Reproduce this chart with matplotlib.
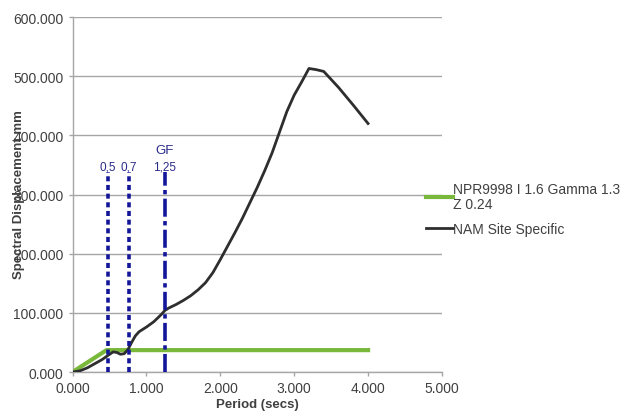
import matplotlib
matplotlib.use("Agg")
import matplotlib.pyplot as plt
from matplotlib.ticker import FuncFormatter

plt.rcParams['font.family'] = ['Liberation Sans', 'DejaVu Sans']

# Data
npr_period = [0.0, 0.46, 4.0]
npr_disp = [0.0, 37.0, 37.0]

nam_period = [0.0, 0.1, 0.2, 0.3, 0.4, 0.48, 0.55, 0.6, 0.65, 0.7, 0.75, 0.8, 0.85, 0.9,
              0.95, 1.0, 1.1, 1.2, 1.25, 1.3, 1.4, 1.5, 1.6, 1.7, 1.8, 1.9, 2.0, 2.1,
              2.2, 2.3, 2.4, 2.5, 2.6, 2.7, 2.8, 2.9, 3.0, 3.1, 3.2, 3.3, 3.4, 3.6,
              3.8, 4.0]
nam_disp = [0, 2, 7, 14, 21, 28, 34, 33, 30, 31, 38, 50, 61, 68, 72, 76, 85, 97, 104,
            108, 114, 121, 129, 139, 151, 168, 190, 213, 236, 260, 286, 312, 340, 370,
            405, 440, 468, 490, 513, 511, 508, 481, 451, 420]

marker_periods = [0.48, 0.76]
marker_labels = ['0,5', '0,7']
gf_period = 1.25
gf_labels = ['GF', '1,25']
marker_top = 338

xticks = [0, 1, 2, 3, 4, 5]
yticks = [0, 100, 200, 300, 400, 500, 600]

fig = plt.figure(figsize=(6.23, 4.14), dpi=100)
ax = fig.add_axes([0.1164, 0.099, 0.593, 0.8575])

ax.set_xlim(0, 5)
ax.set_ylim(0, 600)
ax.set_xticks(xticks)
ax.set_yticks(yticks)
fmt = FuncFormatter(lambda v, p: f"{v:.3f}")
ax.xaxis.set_major_formatter(fmt)
ax.yaxis.set_major_formatter(fmt)

ax.grid(axis='y', color='#a6a6a6', linewidth=1.0)
ax.set_axisbelow(True)
for s in ['top', 'right']:
    ax.spines[s].set_visible(False)
for s in ['left', 'bottom']:
    ax.spines[s].set_color('#a6a6a6')
    ax.spines[s].set_linewidth(1.0)
ax.tick_params(axis='both', colors='#a6a6a6', labelcolor='#404040', labelsize=10,
               length=3, width=1)

l1, = ax.plot(npr_period, npr_disp, color='#79b83a', linewidth=3,
              label='NPR9998 I 1.6 Gamma 1.3\nZ 0.24', zorder=3)
l2, = ax.plot(nam_period, nam_disp, color='#2e2e2e', linewidth=2,
              label='NAM Site Specific', zorder=4)

navy = '#14169a'
for p, lab in zip(marker_periods, marker_labels):
    ax.plot([p, p], [0, marker_top], color=navy, linewidth=2.6,
            linestyle=(0, (1.4, 1.0)), zorder=5)
    ax.text(p, 348, lab, color='#2a2a8a', fontsize=8.5, ha='center', va='center')
ax.plot([gf_period, gf_period], [0, marker_top], color=navy, linewidth=2.6,
        linestyle=(0, (5, 1.2, 1.2, 1.2)), zorder=5)
ax.text(gf_period, 376, gf_labels[0], color='#2a2a8a', fontsize=9.5, ha='center', va='center')
ax.text(gf_period, 348, gf_labels[1], color='#2a2a8a', fontsize=8.5, ha='center', va='center')

ax.set_xlabel('Period (secs)', fontsize=9.5, fontweight='bold', color='#404040', labelpad=2)
fig.text(0.031, 0.531, 'Spectral Displacement mm', rotation=90, fontsize=9.5,
         fontweight='bold', color='#404040', ha='center', va='center')

leg = fig.legend(handles=[l1, l2], loc='upper left', bbox_to_anchor=(0.684, 0.558),
                 frameon=False, fontsize=10, handlelength=1.9, handletextpad=0.05,
                 labelspacing=0.77, borderaxespad=0, borderpad=0)
for t in leg.get_texts():
    t.set_color('#404040')
    t.set_linespacing(1.08)

fig.savefig('out.png', dpi=100)
